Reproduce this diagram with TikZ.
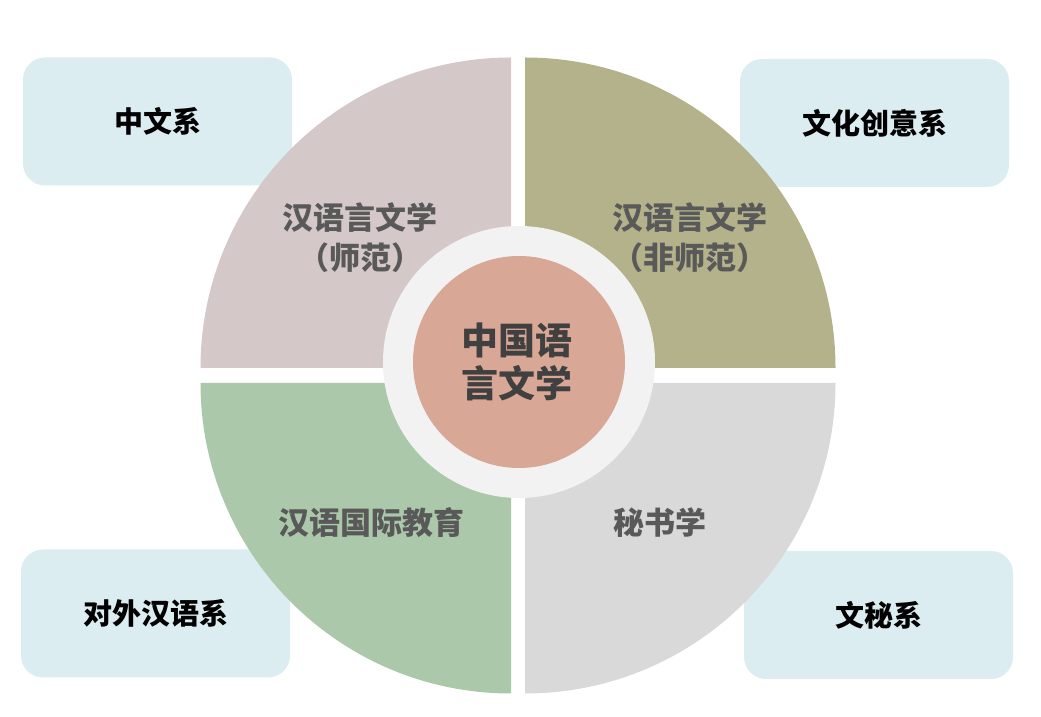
\documentclass[tikz,border=0pt]{standalone}
\usepackage{fontspec}
\setmainfont{Noto Sans CJK SC}
\usepackage{tikz}
\usetikzlibrary{positioning}
\usepackage{xcolor}
\definecolor{cDept}{RGB}{219, 237, 241}
\definecolor{cNormal}{RGB}{213, 200, 201}
\definecolor{cNonNormal}{RGB}{180, 178, 138}
\definecolor{cIntl}{RGB}{171, 201, 170}
\definecolor{cSecr}{RGB}{217, 217, 217}
\definecolor{cRing}{RGB}{242, 242, 242}
\definecolor{cCore}{RGB}{216, 167, 149}
\definecolor{tQuad}{RGB}{89, 89, 89}
\definecolor{tCore}{RGB}{64, 64, 64}

\begin{document}
\begin{tikzpicture}[
    x=1pt, y=1pt,
    font=\bfseries,
    dept/.style={
        fill=cDept,
        rounded corners=22pt,
        minimum width=269pt,
        minimum height=128pt,
        inner sep=0pt,
        font=\bfseries\fontsize{29}{34}\selectfont,
        text=black
    },
    quad/.style={
        align=center,
        inner sep=0pt,
        font=\bfseries\fontsize{31}{40}\selectfont,
        text=tQuad
    },
    core/.style={
        align=center,
        inner sep=0pt,
        font=\bfseries\fontsize{37}{43}\selectfont
    }
]
\useasboundingbox (0,0) rectangle (1041,717);

% department boxes (behind the disc)
\node[dept] (zhongwen) at (157.5, 595.5) {中文系};
\node[dept] (wenchuang) at (874.5, 594) {文化创意系};
\node[dept] (duiwai) at (155.5, 103.5) {对外汉语系};
\node[dept] (wenmi) at (878.5, 102) {文秘系};

% four quarters
\fill[cNormal] (511,349) -- (200.5,349) arc[start angle=180, end angle=90, radius=310.5] -- cycle;
\fill[cNonNormal] (525,349) -- (525,659.5) arc[start angle=90, end angle=0, radius=310.5] -- cycle;
\fill[cIntl] (511,334) -- (511,23.5) arc[start angle=270, end angle=180, radius=310.5] -- cycle;
\fill[cSecr] (525,334) -- (835.5,334) arc[start angle=0, end angle=-90, radius=310.5] -- cycle;

% centre
\fill[cRing] (519,355) circle[radius=136];
\fill[cCore] (519,355) circle[radius=106];

\node[quad] (shifan) at (360, 479) {汉语言文学\\（师范）};
\node[quad] (feishifan) at (690, 479) {汉语言文学\\（非师范）};
\node[quad] (guoji) at (371, 194) {汉语国际教育};
\node[quad] (mishu) at (660, 194) {秘书学};

\node[core, text=tCore] (core) at (517, 355.5) {中国语\\言文学};

\end{tikzpicture}
\end{document}
